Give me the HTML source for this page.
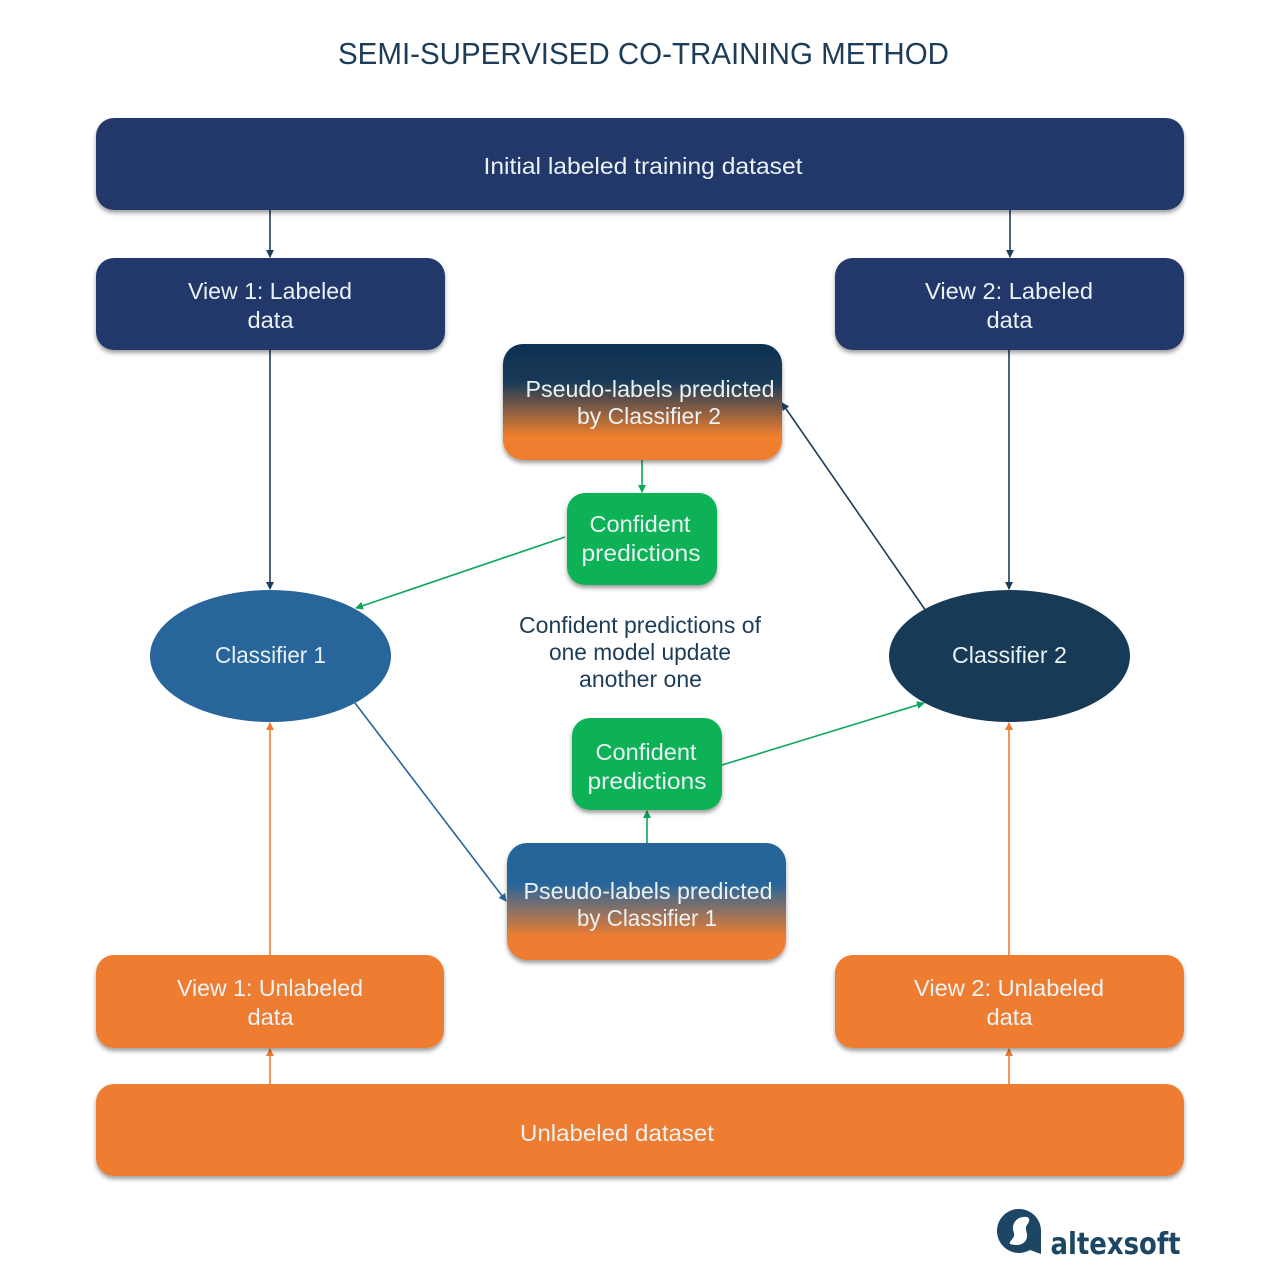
<!DOCTYPE html>
<html><head><meta charset="utf-8">
<style>
html,body{margin:0;padding:0;background:#fff}
svg{display:block}
text{font-family:"Liberation Sans",sans-serif;text-anchor:middle;font-size:23px;fill:#e9f2f4}
.d{fill:#1c3c58}
</style></head>
<body>
<svg width="1275" height="1277" viewBox="0 0 1275 1277" xmlns="http://www.w3.org/2000/svg">
<defs>
<linearGradient id="g2" x1="0" y1="0" x2="0" y2="1">
<stop offset="0" stop-color="#0c3150"/><stop offset=".33" stop-color="#1a3a58"/><stop offset=".8" stop-color="#f07f2d"/><stop offset="1" stop-color="#ee7d30"/></linearGradient>
<linearGradient id="g1" x1="0" y1="0" x2="0" y2="1">
<stop offset="0" stop-color="#27659a"/><stop offset=".35" stop-color="#27659a"/><stop offset=".8" stop-color="#ee7d30"/><stop offset="1" stop-color="#ee7d30"/></linearGradient>
<filter id="s" x="-5%" y="-10%" width="110%" height="125%"><feDropShadow dx="0" dy="3" stdDeviation="2" flood-color="#000" flood-opacity=".38"/></filter>
<marker id="mn" markerWidth="8" markerHeight="8" refX="7" refY="4" orient="auto" markerUnits="userSpaceOnUse"><path d="M0 0L8 4L0 8Z" fill="#1c3c58"/></marker>
<marker id="mg" markerWidth="8" markerHeight="8" refX="7" refY="4" orient="auto" markerUnits="userSpaceOnUse"><path d="M0 0L8 4L0 8Z" fill="#0aa65a"/></marker>
<marker id="mo" markerWidth="8" markerHeight="8" refX="7" refY="4" orient="auto" markerUnits="userSpaceOnUse"><path d="M0 0L8 4L0 8Z" fill="#ee7d30"/></marker>
<marker id="mb" markerWidth="8" markerHeight="8" refX="7" refY="4" orient="auto" markerUnits="userSpaceOnUse"><path d="M0 0L8 4L0 8Z" fill="#27659a"/></marker>
</defs>

<text x="643.5" y="64" class="d" style="font-size:31px" textLength="611" lengthAdjust="spacingAndGlyphs">SEMI-SUPERVISED CO-TRAINING METHOD</text>

<!-- connectors -->
<g fill="none" stroke-width="1.6">
<path d="M270 210V257" stroke="#1c3c58" marker-end="url(#mn)"/>
<path d="M1010 210V257" stroke="#1c3c58" marker-end="url(#mn)"/>
<path d="M270 350V589" stroke="#1c3c58" marker-end="url(#mn)"/>
<path d="M1009 350V589" stroke="#1c3c58" marker-end="url(#mn)"/>
<path d="M926 611L782 403" stroke="#1c3c58" marker-end="url(#mn)"/>
<path d="M642 460V492" stroke="#0aa65a" marker-end="url(#mg)"/>
<path d="M565 537L356 608" stroke="#0aa65a" marker-end="url(#mg)"/>
<path d="M722 765L924 703" stroke="#0aa65a" marker-end="url(#mg)"/>
<path d="M647 843V811" stroke="#0aa65a" marker-end="url(#mg)"/>
<path d="M355 703L506 901" stroke="#27659a" marker-end="url(#mb)"/>
<path d="M270 955V723" stroke="#ee7d30" marker-end="url(#mo)"/>
<path d="M1009 955V723" stroke="#ee7d30" marker-end="url(#mo)"/>
<path d="M270 1084V1049" stroke="#ee7d30" marker-end="url(#mo)"/>
<path d="M1009 1084V1049" stroke="#ee7d30" marker-end="url(#mo)"/>
</g>

<!-- boxes -->
<g filter="url(#s)">
<rect x="96" y="118" width="1088" height="92" rx="18" fill="#21386a"/>
<rect x="96" y="258" width="349" height="92" rx="18" fill="#21386a"/>
<rect x="835" y="258" width="349" height="92" rx="18" fill="#21386a"/>
<rect x="503" y="344" width="279" height="116" rx="20" fill="url(#g2)"/>
<rect x="567" y="493" width="150" height="92" rx="18" fill="#0bb257"/>
<rect x="572" y="718" width="150" height="92" rx="18" fill="#0bb257"/>
<rect x="507" y="843" width="279" height="117" rx="20" fill="url(#g1)"/>
<rect x="96" y="955" width="348" height="93" rx="18" fill="#ee7d30"/>
<rect x="835" y="955" width="349" height="93" rx="18" fill="#ee7d30"/>
<rect x="96" y="1084" width="1088" height="92" rx="18" fill="#ee7d30"/>
</g>
<ellipse cx="270.500" cy="656" rx="120.500" ry="66" fill="#27659a"/>
<ellipse cx="1009.500" cy="656" rx="120.500" ry="66" fill="#173a56"/>

<!-- labels -->
<text x="643" y="174" textLength="319" lengthAdjust="spacingAndGlyphs">Initial labeled training dataset</text>
<text x="270" y="299" textLength="164" lengthAdjust="spacingAndGlyphs">View 1: Labeled</text>
<text x="270.500" y="328" textLength="46" lengthAdjust="spacingAndGlyphs">data</text>
<text x="1009" y="299" textLength="168" lengthAdjust="spacingAndGlyphs">View 2: Labeled</text>
<text x="1009.500" y="328" textLength="46" lengthAdjust="spacingAndGlyphs">data</text>
<text x="650" y="397" textLength="249" lengthAdjust="spacingAndGlyphs">Pseudo-labels predicted</text>
<text x="649" y="424" textLength="144" lengthAdjust="spacingAndGlyphs">by Classifier 2</text>
<text x="640" y="532" textLength="101" lengthAdjust="spacingAndGlyphs">Confident</text>
<text x="641" y="561" textLength="119" lengthAdjust="spacingAndGlyphs">predictions</text>
<text x="270.500" y="663" textLength="111" lengthAdjust="spacingAndGlyphs">Classifier 1</text>
<text x="1009.500" y="663" textLength="115" lengthAdjust="spacingAndGlyphs">Classifier 2</text>
<text x="640" y="633" class="d" textLength="242" lengthAdjust="spacingAndGlyphs">Confident predictions of</text>
<text x="640" y="660" class="d" textLength="182" lengthAdjust="spacingAndGlyphs">one model update</text>
<text x="640.500" y="687" class="d" textLength="123" lengthAdjust="spacingAndGlyphs">another one</text>
<text x="646" y="760" textLength="101" lengthAdjust="spacingAndGlyphs">Confident</text>
<text x="647" y="789" textLength="119" lengthAdjust="spacingAndGlyphs">predictions</text>
<text x="648" y="899" textLength="249" lengthAdjust="spacingAndGlyphs">Pseudo-labels predicted</text>
<text x="647" y="926" textLength="140" lengthAdjust="spacingAndGlyphs">by Classifier 1</text>
<text x="270" y="996" textLength="186" lengthAdjust="spacingAndGlyphs">View 1: Unlabeled</text>
<text x="270.500" y="1025" textLength="46" lengthAdjust="spacingAndGlyphs">data</text>
<text x="1009" y="996" textLength="190" lengthAdjust="spacingAndGlyphs">View 2: Unlabeled</text>
<text x="1009.500" y="1025" textLength="46" lengthAdjust="spacingAndGlyphs">data</text>
<text x="617" y="1141" textLength="194" lengthAdjust="spacingAndGlyphs">Unlabeled dataset</text>

<!-- logo -->
<path d="M1041 1254L1030 1250A22 22 0 1 1 1041 1231Z" fill="#1c4664"/>
<path d="M1027 1217C1018 1216 1012 1222 1013 1230C1014 1233 1015 1235 1013 1238C1011 1241 1009 1242 1010 1244C1020 1247 1028 1243 1027 1234C1026 1230 1025 1228 1027 1225C1029 1222 1031 1219 1027 1217Z" fill="#fff"/>
<text x="1115.500" y="1254" style="font-family:'DejaVu Sans','Liberation Sans',sans-serif;font-size:30px;font-weight:bold;fill:#1c4664" textLength="130" lengthAdjust="spacingAndGlyphs">altexsoft</text>
</svg>
</body></html>
